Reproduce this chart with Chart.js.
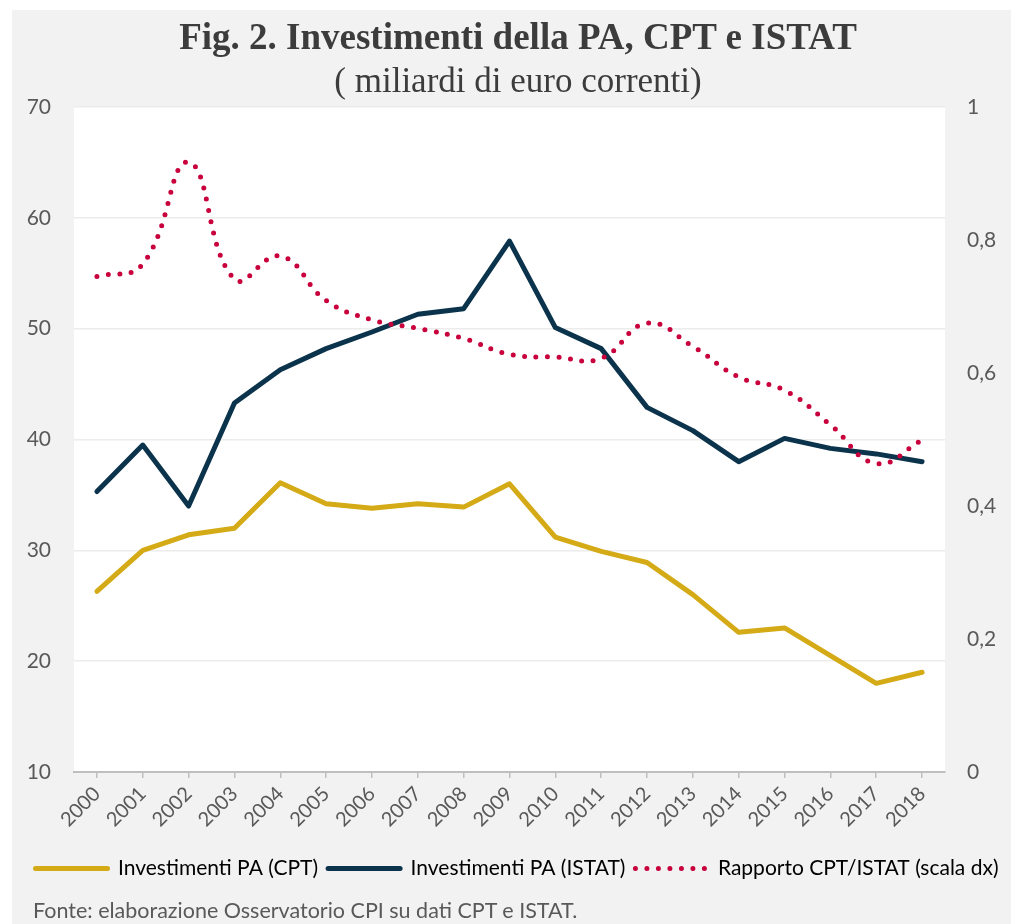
<!DOCTYPE html>
<html lang="it">
<head>
<meta charset="utf-8">
<title>Investimenti della PA, CPT e ISTAT</title>
<script src="https://cdn.jsdelivr.net/npm/chart.js@4.4.1/dist/chart.umd.min.js"></script>
<style>
  html, body { margin: 0; padding: 0; background: #fff; }
  #wrap {
    position: absolute; left: 12px; top: 10px;
    width: 999px; height: 914px; background: #f2f2f2;
  }
  #wrap canvas { position: absolute; left: 0; top: 0; }
  .titolo {
    position: absolute; left: 13px; width: 986px; text-align: center;
    font-family: "Liberation Serif", "Times New Roman", serif; color: #3c3c3c;
    white-space: nowrap;
  }
  #t1 { top: 8px; font-weight: bold; font-size: 37px; line-height: 37px; }
  #t2 { top: 53px; font-size: 35px; line-height: 35px; }
  #fonte {
    position: absolute; left: 21px; top: 890px;
    font-family: Lato, sans-serif; font-size: 21.5px; line-height: 21.5px; color: #595959;
  }
</style>
</head>
<body>
<div id="wrap">
  <canvas id="grafico" width="999" height="914"></canvas>
  <div class="titolo" id="t1">Fig. 2. Investimenti della PA, CPT e ISTAT</div>
  <div class="titolo" id="t2">( miliardi di euro correnti)</div>
  <div id="fonte">Fonte: elaborazione Osservatorio CPI su dati CPT e ISTAT.</div>
</div>
<script>
// Dati (miliardi di euro correnti)
const anni = ['2000', '2001', '2002', '2003', '2004', '2005', '2006', '2007', '2008', '2009',
              '2010', '2011', '2012', '2013', '2014', '2015', '2016', '2017', '2018'];
const investCPT = [26.3, 30.0, 31.4, 32.0, 36.1, 34.2, 33.8, 34.2, 33.9, 36.0,
                   31.2, 29.9, 28.9, 26.0, 22.6, 23.0, 20.5, 18.0, 19.0];
const investISTAT = [35.3, 39.5, 34.0, 43.3, 46.3, 48.2, 49.7, 51.3, 51.8, 57.9,
                     50.1, 48.2, 42.9, 40.8, 38.0, 40.1, 39.2, 38.7, 38.0];
const rapporto = [0.745, 0.764, 0.917, 0.741, 0.776, 0.709, 0.680, 0.667, 0.652, 0.628,
                  0.624, 0.622, 0.675, 0.640, 0.594, 0.574, 0.522, 0.464, 0.499];
const etichette = ['Investimenti PA (CPT)', 'Investimenti PA (ISTAT)', 'Rapporto CPT/ISTAT (scala dx)'];

const ORO = '#d4aa16';
const BLU = '#0b344c';
const ROSSO = '#c8003c';
const GRIGIO_TESTO = '#595959';

Chart.defaults.font.family = 'Lato, sans-serif';
Chart.defaults.color = GRIGIO_TESTO;

// sfondo bianco solo nell'area del grafico
const sfondoArea = {
    id: 'sfondoArea',
    beforeDraw(chart) {
        const { ctx, chartArea: a } = chart;
        ctx.save();
        ctx.fillStyle = '#ffffff';
        ctx.fillRect(a.left, a.top, a.right - a.left, a.bottom - a.top);
        ctx.restore();
    }
};

new Chart(document.getElementById('grafico'), {
    type: 'line',
    data: {
        labels: anni,
        datasets: [
            {
                label: etichette[0], data: investCPT, yAxisID: 'y', order: 2,
                borderColor: ORO, borderWidth: 5, borderCapStyle: 'round', borderJoinStyle: 'round',
                pointRadius: 0, tension: 0
            },
            {
                label: etichette[1], data: investISTAT, yAxisID: 'y', order: 1,
                borderColor: BLU, borderWidth: 5, borderCapStyle: 'round', borderJoinStyle: 'round',
                pointRadius: 0, tension: 0
            },
            {
                label: etichette[2], data: rapporto, yAxisID: 'y1', order: 0,
                borderColor: ROSSO, borderWidth: 5, borderCapStyle: 'round', borderDash: [0, 11.5],
                pointRadius: 0, tension: 0.45
            }
        ]
    },
    options: {
        responsive: false,
        animation: false,
        layout: { padding: { left: 11, right: 0, top: 97, bottom: 35 } },
        plugins: {
            tooltip: { enabled: false },
            legend: {
                position: 'bottom',
                labels: {
                    usePointStyle: true,
                    pointStyleWidth: 72,
                    padding: 10,
                    color: '#262626',
                    font: { size: 21 },
                    generateLabels(chart) {
                        return chart.data.datasets.map((ds, i) => ({
                            text: ds.label,
                            fillStyle: ds.borderColor,
                            strokeStyle: ds.borderColor,
                            lineWidth: 5,
                            lineCap: 'round',
                            lineDash: ds.borderDash || [],
                            pointStyle: 'line',
                            hidden: false,
                            datasetIndex: i
                        }));
                    }
                }
            }
        },
        scales: {
            x: {
                offset: true,
                grid: {
                    display: true, drawOnChartArea: false, drawTicks: true,
                    tickLength: 6, color: '#bfbfbf', lineWidth: 1.5
                },
                border: { display: true, color: '#bfbfbf', width: 2 },
                ticks: { minRotation: 45, maxRotation: 45, autoSkip: false, padding: 4, font: { size: 20 } },
                afterFit(scale) { scale.height = 76; }
            },
            y: {
                position: 'left',
                min: 10, max: 70,
                ticks: { stepSize: 10, padding: 23, font: { size: 21 } },
                grid: { color: '#ececec', lineWidth: 1.5, drawTicks: false },
                border: { display: false },
                afterFit(scale) { scale.width = 51; }
            },
            y1: {
                position: 'right',
                min: 0, max: 1,
                ticks: {
                    stepSize: 0.2, padding: 22, font: { size: 21 },
                    callback: (v) => String(Number(v.toFixed(1))).replace('.', ',')
                },
                grid: { drawOnChartArea: false, drawTicks: false },
                border: { display: false },
                afterFit(scale) { scale.width = 66; }
            }
        }
    },
    plugins: [sfondoArea]
});
</script>
</body>
</html>
